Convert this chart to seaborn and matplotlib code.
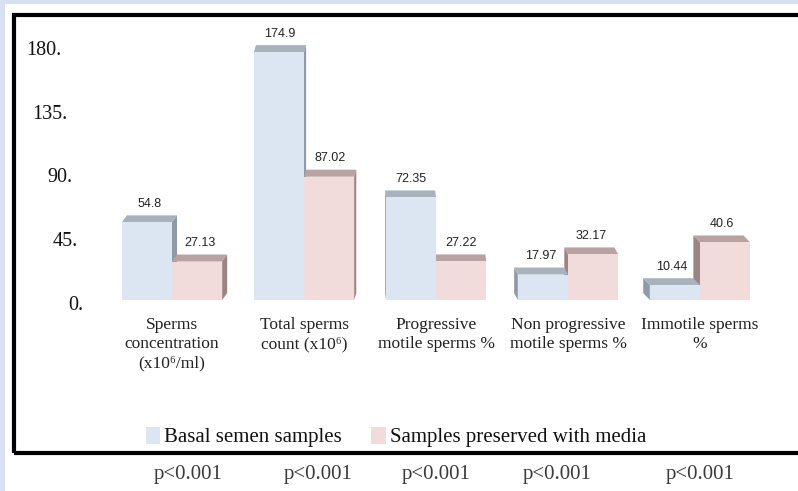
import matplotlib
matplotlib.use("Agg")
import numpy as np
import pandas as pd
import seaborn as sns
import matplotlib.pyplot as plt
from matplotlib.patches import Polygon, Rectangle, Patch
from matplotlib.transforms import ScaledTranslation, blended_transform_factory

# ---- data ----
categories = [
    "Sperms\nconcentration\n(x10⁶/ml)",
    "Total sperms\ncount (x10⁶)",
    "Progressive\nmotile sperms %",
    "Non progressive\nmotile sperms %",
    "Immotile sperms\n%",
]
basal = [54.8, 174.9, 72.35, 17.97, 10.44]
preserved = [27.13, 87.02, 27.22, 32.17, 40.6]
series = ["Basal semen samples", "Samples preserved with media"]
p_values = ["p<0.001", "p<0.001", "p<0.001", "p<0.001", "p<0.001"]
y_ticks = [0, 45, 90, 135, 180]

df = pd.DataFrame({
    "category": categories * 2,
    "value": basal + preserved,
    "series": [series[0]] * len(categories) + [series[1]] * len(categories),
})

# ---- style ----
sns.set_theme(style="white")
plt.rcParams["font.family"] = ["Liberation Serif", "DejaVu Serif"]
label_font = ["Liberation Sans Narrow", "Liberation Sans", "DejaVu Sans"]

front = ["#dce6f2", "#f2dcdb"]
top_col = ["#a7b2bd", "#b9a2a2"]
side_col = ["#8e9aa6", "#9c8484"]

W, H = 798, 491
fig = plt.figure(figsize=(W / 100, H / 100), dpi=100)

ax_left, ax_right = 88, 790
y0_px, px_per_unit = 300, 1.417
x0_px, group_px = 172, 132
ymax = 190
ax = fig.add_axes([ax_left / W, (H - y0_px) / H,
                   (ax_right - ax_left) / W, ymax * px_per_unit / H])

sns.barplot(data=df, x="category", y="value", hue="series", palette=front,
            width=0.76, saturation=1, edgecolor="none", legend=False, ax=ax)

ax.set_xlim(-(x0_px - ax_left) / group_px, (ax_right - x0_px) / group_px)
ax.set_ylim(0, ymax)
ax.set_xlabel("")
ax.set_ylabel("")
for s in ax.spines.values():
    s.set_visible(False)

# ---- pseudo-3D faces (top + side) with a central vanishing point ----
dy = 7 / px_per_unit


def faces(bar, dx, tc, sc):
    x, w, h = bar.get_x(), bar.get_width(), bar.get_height()
    ax.add_patch(Polygon([(x, h), (x + w, h), (x + w + dx, h + dy), (x + dx, h + dy)],
                         closed=True, fc=tc, ec="none", zorder=2, clip_on=False))
    xs = x + w if dx > 0 else x
    ax.add_patch(Polygon([(xs, 0), (xs, h), (xs + dx, h + dy), (xs + dx, dy)],
                         closed=True, fc=sc, ec="none", zorder=2, clip_on=False))


bars_b = list(ax.containers[0])
bars_p = list(ax.containers[1])
for bar in bars_b + bars_p:
    bar.set_zorder(3)

for i, (bb, bp) in enumerate(zip(bars_b, bars_p)):
    dx = ((400 - (x0_px + group_px * i)) * 0.022) / group_px
    order = [(bb, 0), (bp, 1)] if dx > 0 else [(bp, 1), (bb, 0)]
    for bar, k in order:
        faces(bar, dx, top_col[k], side_col[k])
    for bar in (bb, bp):
        h = bar.get_height()
        ax.annotate(f"{h:g}", xy=(bar.get_x() + bar.get_width() / 2 + dx / 2, h + dy),
                    xytext=(0, 4), textcoords="offset points", ha="center", va="bottom",
                    fontsize=9, family=label_font, color="#222222", zorder=4)

# ---- axes ticks ----
ax.set_yticks(y_ticks, labels=[f"{t}." for t in y_ticks])
ax.tick_params(axis="y", length=0, pad=3, labelsize=14.5, labelcolor="#111111")
for tick, t in zip(ax.yaxis.get_major_ticks(), y_ticks):
    tick.label1.set_transform(tick.label1.get_transform()
                              + ScaledTranslation(-22 * t / 180 / 100, -3 / 100,
                                                  fig.dpi_scale_trans))

ax.tick_params(axis="x", length=0, pad=12, labelsize=12.5, labelcolor="#222222")
for lab in ax.get_xticklabels():
    lab.set_linespacing(1.3)
    lab.set_ha("center")

# ---- frame and background strips ----
fig.add_artist(Rectangle((0, 0), 5 / W, 1, transform=fig.transFigure,
                         fc="#d8e1f1", ec="none", zorder=0))
fig.add_artist(Rectangle((0, (H - 3.5) / H), 1, 3.5 / H, transform=fig.transFigure,
                         fc="#d8e1f1", ec="none", zorder=0))
fig.add_artist(Rectangle((14 / W, (H - 453) / H), 1.2, (453 - 15) / H,
                         transform=fig.transFigure, fill=False, ec="black", lw=3, zorder=5))

# ---- legend ----
fig.legend(handles=[Patch(fc=front[0], ec="none"), Patch(fc=front[1], ec="none")],
           labels=series, loc="center", bbox_to_anchor=(396 / W, (H - 437) / H),
           ncol=2, frameon=False, fontsize=15, handlelength=0.7, handleheight=0.9,
           handletextpad=0.2, columnspacing=1.4, labelcolor="#111111")

# ---- significance below the frame ----
p_shift = [0.12, 0.11, 0.0, -0.08, 0.0]
trans = blended_transform_factory(ax.transData, fig.transFigure)
for i, (p, s) in enumerate(zip(p_values, p_shift)):
    ax.text(i + s, (H - 474) / H, p, transform=trans, ha="center", va="center",
            fontsize=15, color="#3a3a3a", clip_on=False)

fig.savefig("out.png", dpi=100)
